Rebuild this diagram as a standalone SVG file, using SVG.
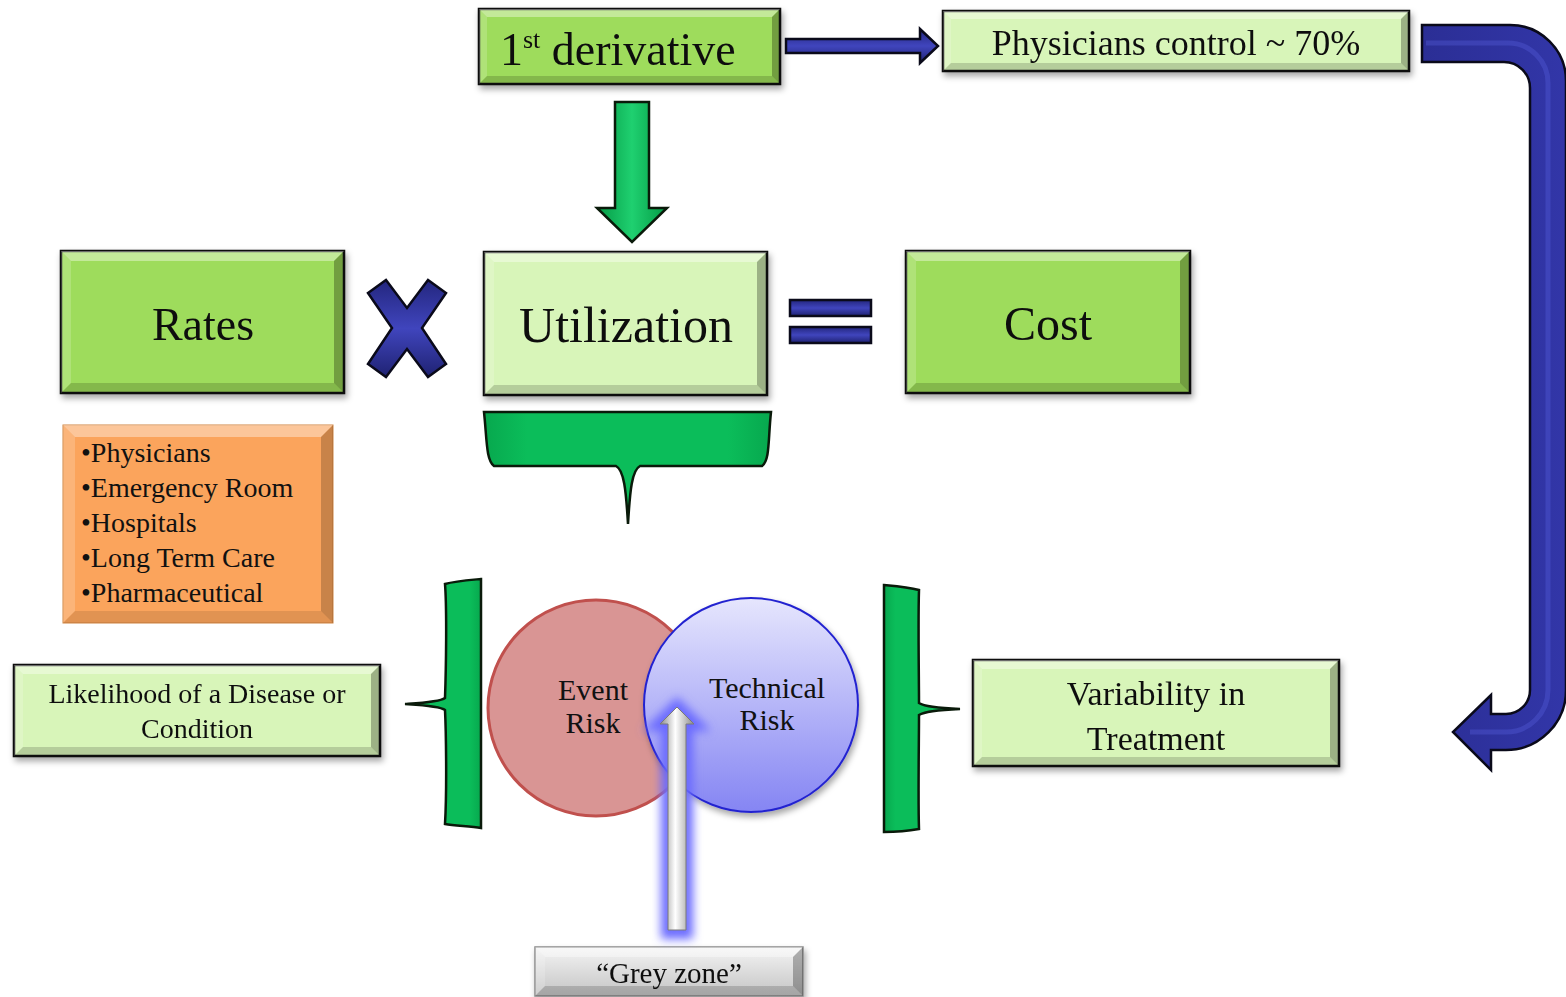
<svg xmlns="http://www.w3.org/2000/svg" width="1566" height="997" viewBox="0 0 1566 997">
<defs>
<style>
text{font-family:"Liberation Serif","Times New Roman",serif;fill:#111}
.box{stroke:#111;stroke-width:2.5}
.g1{fill:#9edc5b}
.g2{fill:#d8f5b9}
.bt{fill:#fff;opacity:.38}
.bl{fill:#fff;opacity:.18}
.br{fill:#000;opacity:.28}
.bb{fill:#000;opacity:.16}
.blue{fill:url(#blueV);stroke:#0a0a1a;stroke-width:2.5}
.green{fill:url(#greenH);stroke:#0a1a0a;stroke-width:2.5}
.brk{fill:url(#greenH2);stroke:#0a1a0a;stroke-width:2.5}
</style>
<filter id="sh" x="-10%" y="-10%" width="130%" height="140%"><feDropShadow dx="2" dy="4" stdDeviation="3" flood-color="#000" flood-opacity="0.35"/></filter>
<filter id="glow" x="-100%" y="-20%" width="300%" height="140%"><feGaussianBlur stdDeviation="5"/></filter>
<linearGradient id="blueV" x1="0" y1="0" x2="0" y2="1"><stop offset="0" stop-color="#23267e"/><stop offset="0.5" stop-color="#4045bd"/><stop offset="1" stop-color="#1f2272"/></linearGradient>
<linearGradient id="blueC" x1="0" y1="0" x2="1" y2="0"><stop offset="0" stop-color="#2b2e95"/><stop offset="1" stop-color="#3236a8"/></linearGradient>
<linearGradient id="greenH" x1="0" y1="0" x2="1" y2="0"><stop offset="0" stop-color="#049a45"/><stop offset="0.5" stop-color="#1fd070"/><stop offset="1" stop-color="#049a45"/></linearGradient>
<linearGradient id="greenH2" x1="0" y1="0" x2="1" y2="0"><stop offset="0" stop-color="#07a84e"/><stop offset="0.15" stop-color="#0bbd5a"/><stop offset="0.85" stop-color="#0bbd5a"/><stop offset="1" stop-color="#07a84e"/></linearGradient>
<linearGradient id="techG" x1="0" y1="0" x2="0" y2="1"><stop offset="0" stop-color="#e6e6fd"/><stop offset="1" stop-color="#8585f3"/></linearGradient>
<linearGradient id="greyG" x1="0" y1="0" x2="0" y2="1"><stop offset="0" stop-color="#f4f4f4"/><stop offset="1" stop-color="#c4c4c4"/></linearGradient>
<linearGradient id="greyArr" x1="0" y1="0" x2="1" y2="0"><stop offset="0" stop-color="#8a8a8a"/><stop offset="0.45" stop-color="#ffffff"/><stop offset="1" stop-color="#8a8a8a"/></linearGradient>
</defs>
<rect width="1566" height="997" fill="#fff"/>

<g id="n-derivative" filter="url(#sh)">
<rect class="box g1" x="479" y="9" width="301" height="75"/>
<polygon class="bt" points="479,9 780,9 772,17 487,17"/><polygon class="bl" points="479,9 487,17 487,76 479,84"/><polygon class="br" points="780,9 780,84 772,76 772,17"/><polygon class="bb" points="479,84 780,84 772,76 487,76"/>
<text x="500" y="65" font-size="46">1<tspan font-size="26" dy="-17">st</tspan><tspan dy="17"> derivative</tspan></text>
</g>

<g id="n-physicians" filter="url(#sh)">
<rect class="box g2" x="943" y="11" width="466" height="60"/>
<polygon class="bt" points="943,11 1409,11 1401,19 951,19"/><polygon class="bl" points="943,11 951,19 951,63 943,71"/><polygon class="br" points="1409,11 1409,71 1401,63 1401,19"/><polygon class="bb" points="943,71 1409,71 1401,63 951,63"/>
<text x="1176" y="55" font-size="36" text-anchor="middle">Physicians control ~ 70%</text>
</g>

<g id="n-rates" filter="url(#sh)">
<rect class="box g1" x="61" y="251" width="283" height="142"/>
<polygon class="bt" points="61,251 344,251 334,261 71,261"/><polygon class="bl" points="61,251 71,261 71,383 61,393"/><polygon class="br" points="344,251 344,393 334,383 334,261"/><polygon class="bb" points="61,393 344,393 334,383 71,383"/>
<text x="203" y="340" font-size="46" text-anchor="middle">Rates</text>
</g>

<g id="n-utilization" filter="url(#sh)">
<rect class="box g2" x="484" y="252" width="283" height="143"/>
<polygon class="bt" points="484,252 767,252 757,262 494,262"/><polygon class="bl" points="484,252 494,262 494,385 484,395"/><polygon class="br" points="767,252 767,395 757,385 757,262"/><polygon class="bb" points="484,395 767,395 757,385 494,385"/>
<text x="626" y="342" font-size="50" text-anchor="middle">Utilization</text>
</g>

<g id="n-cost" filter="url(#sh)">
<rect class="box g1" x="906" y="251" width="284" height="142"/>
<polygon class="bt" points="906,251 1190,251 1180,261 916,261"/><polygon class="bl" points="906,251 916,261 916,383 906,393"/><polygon class="br" points="1190,251 1190,393 1180,383 1180,261"/><polygon class="bb" points="906,393 1190,393 1180,383 916,383"/>
<text x="1048" y="340" font-size="48" text-anchor="middle">Cost</text>
</g>

<g id="n-list">
<rect x="63" y="425" width="270" height="198" fill="#fba45c" stroke="#d08440" stroke-width="1"/>
<polygon class="bt" points="63,425 333,425 321,437 75,437" opacity=".3"/><polygon class="bl" points="63,425 75,437 75,611 63,623"/><polygon points="333,425 333,623 321,611 321,437" fill="#000" opacity=".2"/><polygon points="63,623 333,623 321,611 75,611" fill="#000" opacity=".1"/>
<text x="81" y="462" font-size="28">•Physicians</text>
<text x="81" y="497" font-size="28">•Emergency Room</text>
<text x="81" y="532" font-size="28">•Hospitals</text>
<text x="81" y="567" font-size="28">•Long Term Care</text>
<text x="81" y="602" font-size="28">•Pharmaceutical</text>
</g>

<g id="n-likelihood" filter="url(#sh)">
<rect class="box g2" x="14" y="665" width="366" height="91"/>
<polygon class="bt" points="14,665 380,665 371,674 23,674"/><polygon class="bl" points="14,665 23,674 23,747 14,756"/><polygon class="br" points="380,665 380,756 371,747 371,674"/><polygon class="bb" points="14,756 380,756 371,747 23,747"/>
<text x="197" y="703" font-size="28" text-anchor="middle">Likelihood of a Disease or</text>
<text x="197" y="738" font-size="28" text-anchor="middle">Condition</text>
</g>

<g id="n-variability" filter="url(#sh)">
<rect class="box g2" x="973" y="660" width="366" height="106"/>
<polygon class="bt" points="973,660 1339,660 1330,669 982,669"/><polygon class="bl" points="973,660 982,669 982,757 973,766"/><polygon class="br" points="1339,660 1339,766 1330,757 1330,669"/><polygon class="bb" points="973,766 1339,766 1330,757 982,757"/>
<text x="1156" y="705" font-size="34" text-anchor="middle">Variability in</text>
<text x="1156" y="750" font-size="34" text-anchor="middle">Treatment</text>
</g>

<g id="n-event">
<circle cx="596" cy="708" r="108" fill="#d99594" stroke="#c0504d" stroke-width="3"/>
<text x="593" y="700" font-size="30" text-anchor="middle">Event</text>
<text x="593" y="733" font-size="30" text-anchor="middle">Risk</text>
</g>

<g id="n-technical">
<circle cx="751" cy="705" r="107" fill="url(#techG)" stroke="#2424d0" stroke-width="2" filter="url(#sh)"/>
<text x="767" y="698" font-size="30" text-anchor="middle">Technical</text>
<text x="767" y="730" font-size="30" text-anchor="middle">Risk</text>
</g>

<g id="n-grey" filter="url(#sh)">
<rect x="535" y="947" width="268" height="49" fill="url(#greyG)" stroke="#8a8a8a" stroke-width="1.5"/>
<polygon class="bt" points="535,947 803,947 793,957 545,957"/><polygon class="bl" points="535,947 545,957 545,986 535,996"/><polygon class="br" points="803,947 803,996 793,986 793,957"/><polygon class="bb" points="535,996 803,996 793,986 545,986"/>
<text x="669" y="983" font-size="29" text-anchor="middle">“Grey zone”</text>
</g>

<g id="connectors">
<path class="blue" d="M786,39 L920,39 L920,29 L938,46 L920,63 L920,53 L786,53 Z"/>
<path d="M1422,25 L1510,25 A56,56 0 0 1 1566,81 L1566,690 A60,60 0 0 1 1506,750 L1491,750 L1491,770 L1453,732 L1491,695 L1491,714 L1506,714 A24,24 0 0 0 1530,690 L1530,88 A26,26 0 0 0 1504,62 L1422,62 Z" fill="url(#blueC)" stroke="#0a0a1a" stroke-width="2.5"/>
<path d="M1426,43 L1508,43 A40,40 0 0 1 1548,83 L1548,690 A42,42 0 0 1 1506,732 L1470,732" fill="none" stroke="#5a60e0" stroke-width="5" opacity="0.35"/>
<path class="green" d="M615,102 L649,102 L649,208 L667,208 L632,242 L597,208 L615,208 Z"/>
<path d="M368,293 L386,280 L407,308 L428,280 L446,293 L422,328 L446,364 L428,377 L407,349 L386,377 L368,364 L392,328 Z" fill="url(#blueV)" stroke="#0a0a1a" stroke-width="2.5"/>
<rect x="790" y="300" width="81" height="16" fill="url(#blueV)" stroke="#0a0a1a" stroke-width="2.5"/>
<rect x="790" y="327" width="81" height="16" fill="url(#blueV)" stroke="#0a0a1a" stroke-width="2.5"/>
<path class="brk" d="M484,412 L771,412 C768,440 770,460 762,466 L640,466 C632,470 630,490 628,524 C626,490 624,470 616,466 L494,466 C486,460 487,440 484,412 Z"/>
<path class="brk" d="M481,579 L481,828 C470,826 455,826 445,824 C447,790 446,730 445,710 C440,706 420,705 405,704 C420,703 440,702 445,698 C446,670 447,610 445,584 C455,581 470,580 481,579 Z"/>
<path class="brk" d="M884,585 C895,586 908,587 919,590 C918,620 919,680 919,703 C925,707 940,708 960,709 C940,710 925,711 919,715 C919,740 918,800 919,829 C908,831 895,832 884,832 Z"/>
<path d="M668,932 L668,724 L660,724 L677,707 L694,724 L686,724 L686,932 Z" fill="none" stroke="#6a6aff" stroke-width="14" filter="url(#glow)"/>
<path d="M668,930 L668,724 L660,724 L677,707 L694,724 L686,724 L686,930 Z" fill="url(#greyArr)" stroke="#7a7a7a" stroke-width="1"/>
</g>
</svg>
